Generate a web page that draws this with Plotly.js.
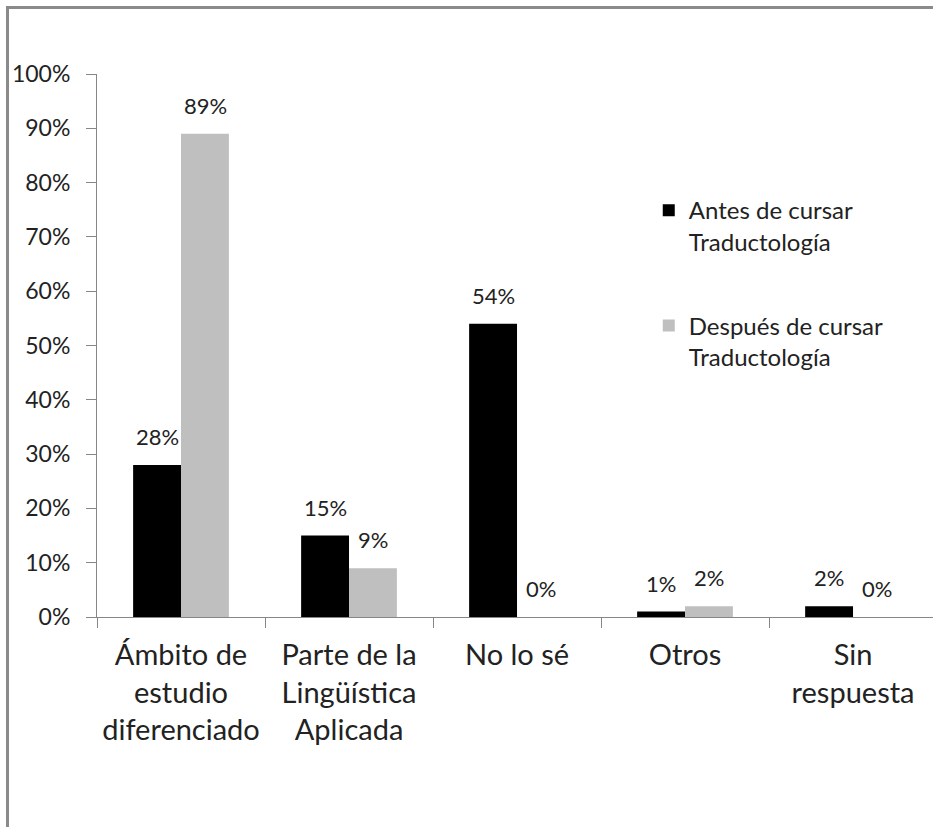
<!DOCTYPE html>
<html>
<head>
<meta charset="utf-8">
<script src="https://cdn.plot.ly/plotly-3.0.1.min.js"></script>
<style>
  html, body { margin: 0; padding: 0; background: #fff; }
  #wrap { position: relative; width: 933px; height: 827px; overflow: hidden; }
  #frame { position: absolute; left: 6px; top: 6px; width: 1000px; height: 1000px;
           border-top: 3px solid #8a8a8a; border-left: 3px solid #8a8a8a; pointer-events: none; }
  #chart { position: absolute; left: 0; top: 0; }
</style>
</head>
<body>
<div id="wrap">
  <div id="chart"></div>
  <div id="frame"></div>
</div>
<script>
const categories = ["Ámbito de<br>estudio<br>diferenciado", "Parte de la<br>Lingüística<br>Aplicada", "No lo sé", "Otros", "Sin<br>respuesta"];
const seriesNames = ["Antes de cursar<br>Traductología", "Después de cursar<br>Traductología"];
const antes = [28, 15, 54, 1, 2];
const despues = [89, 9, 0, 2, 0];
const colors = ["#000000", "#bfbfbf"];

const font = "Lato, 'Open Sans', sans-serif";
const textColor = "#222";

function mk(name, vals, color, grp) {
  return {
    type: "bar", name: name, x: categories, y: vals,
    marker: {color: color},
    legendgroup: grp, hoverinfo: "skip"
  };
}

const data = [mk(seriesNames[0], antes, colors[0], "a"), mk(seriesNames[1], despues, colors[1], "b")];

// value labels above the bars, placed through the axes from the same arrays
const annotations = [];
[[antes, -24], [despues, 24]].forEach(([vals, dx]) => {
  vals.forEach((v, i) => {
    annotations.push({
      x: categories[i], y: v, xref: "x", yref: "y",
      text: v + "%", showarrow: false, xanchor: "center", yanchor: "bottom",
      xshift: dx, yshift: 13,
      font: {family: font, size: 22, color: textColor}
    });
  });
});

const layout = {
  width: 933, height: 827,
  margin: {l: 97, r: 0, t: 74, b: 210},
  paper_bgcolor: "#fff", plot_bgcolor: "#fff",
  font: {family: font, color: textColor},
  barmode: "group", bargap: 0.43, bargroupgap: 0,
  showlegend: true,
  annotations: annotations,
  legend: {x: 0.66, xanchor: "left", y: 0.79, yanchor: "top",
           font: {family: font, size: 24, color: textColor},
           tracegroupgap: 50, traceorder: "grouped", valign: "top",
           itemwidth: 30, bgcolor: "rgba(0,0,0,0)"},
  xaxis: {type: "category", range: [-0.5, 4.476], showline: true, linecolor: "#868686", linewidth: 1,
          ticks: "outside", tickson: "boundaries", ticklen: 10, tickcolor: "#868686",
          tickangle: 0,
          tickfont: {family: font, size: 29, color: textColor}, ticklabelstandoff: 12,
          showgrid: false, zeroline: false, fixedrange: true},
  yaxis: {range: [0, 100], dtick: 10, ticksuffix: "%", showline: true, linecolor: "#868686", linewidth: 1,
          ticks: "outside", ticklen: 10, tickcolor: "#868686",
          tickfont: {family: font, size: 23, color: textColor}, ticklabelstandoff: 11,
          showgrid: false, zeroline: false, fixedrange: true}
};

Plotly.newPlot("chart", data, layout, {displayModeBar: false, staticPlot: true});
</script>
</body>
</html>
